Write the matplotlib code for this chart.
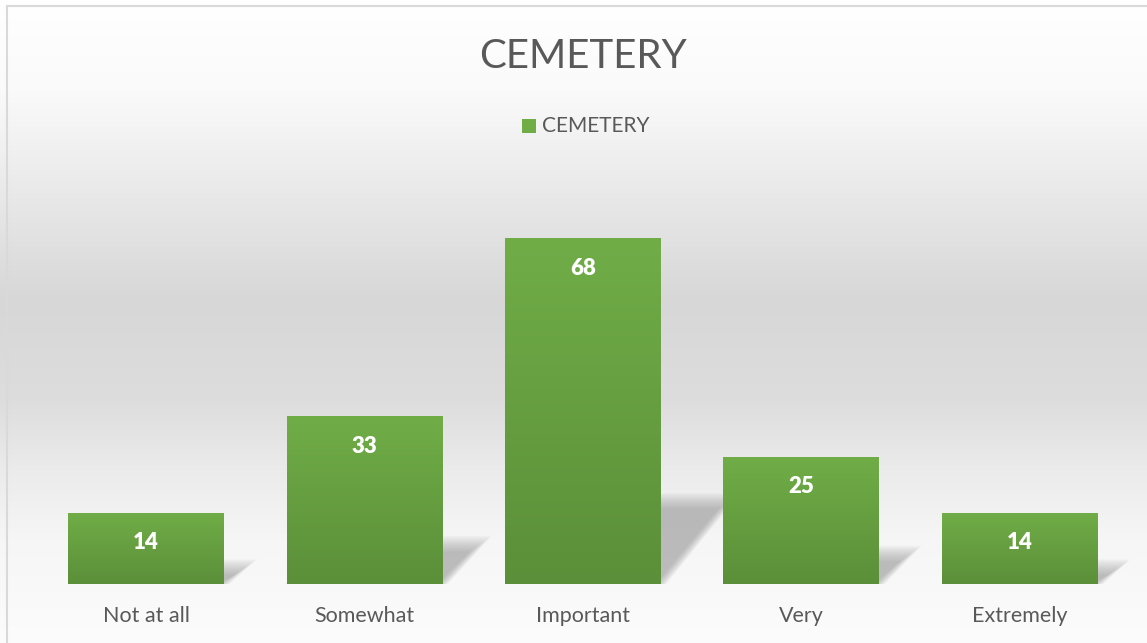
#!/usr/bin/env python3
"""CEMETERY 柱状图，仿 Excel 风格（渐变背景、渐变柱、透视阴影）。"""

import numpy as np
import matplotlib
matplotlib.use("Agg")
import matplotlib.pyplot as plt
from matplotlib.patches import Polygon, Rectangle
from matplotlib.lines import Line2D
from matplotlib.colors import LinearSegmentedColormap

categories = ["Not at all", "Somewhat", "Important", "Very", "Extremely"]
values = [14, 33, 68, 25, 14]
series_name = "CEMETERY"
title = "CEMETERY"

W, H, DPI = 1147, 643, 100
TEXT = "#595959"
FONT = "Lato"

fig = plt.figure(figsize=(W / DPI, H / DPI), dpi=DPI)

# 背景渐变（上白 - 中灰 - 下白）
bg = fig.add_axes([0, 0, 1, 1], zorder=-10)
rows = np.arange(H)
stops_y = [0, 90, 180, 300, 400, 470, 540, 643]
stops_v = [255, 250, 235, 215, 221, 235, 246, 252]
grad = np.interp(rows, stops_y, stops_v) / 255.0
img = np.repeat(grad[:, None, None], 3, axis=2)
img = np.repeat(img, W, axis=1)
bg.imshow(img, aspect="auto", extent=[0, 1, 0, 1], interpolation="none")
bg.set_axis_off()

# 外框（左、上）
fig.add_artist(Line2D([7.5 / W, 7.5 / W], [0, 1 - 5.5 / H], color="#d9d9d9", lw=1.5))
fig.add_artist(Line2D([7.5 / W, 1], [1 - 5.5 / H, 1 - 5.5 / H], color="#d9d9d9", lw=1.5))

# 绘图区
left, right, base, top = 37, 1129, 584, 177
ax = fig.add_axes([left / W, (H - base) / H, (right - left) / W, (base - top) / H])
ax.set_facecolor("none")
x = np.arange(len(categories))
for s in ax.spines.values():
    s.set_visible(False)
ax.set_yticks([])
ax.set_xticks(x)
ax.set_xticklabels(categories, fontsize=15.5, color=TEXT, family=FONT)
ax.tick_params(axis="x", length=0, pad=16)

bar_w = 0.714
px_x = (right - left) / len(categories)   # 每个类别的像素宽
px_y = (base - top) / 80.0                  # 每单位像素高

# 透视阴影（多层叠加模拟模糊）
for xi, v in zip(x, values):
    h = 0.24 * v
    shift = (0.7 * h * px_y + 10) / px_x
    x0, x1 = xi - bar_w / 2, xi + bar_w / 2
    n = 16
    for k in range(n):
        t = k / (n - 1)
        grow = (0.5 - t) * 22 / px_x
        growy = (0.5 - t) * 16 / px_y
        poly = Polygon([(x0, 0), (x1 + grow * 0.5, 0),
                        (x1 + shift + grow, h + growy), (x0 + shift, h + growy)],
                       closed=True, facecolor="#8c8c8c", edgecolor="none",
                       alpha=0.042, zorder=1)
        ax.add_patch(poly)

# 渐变柱
bars = ax.bar(x, values, width=bar_w, color="#70ad47", zorder=2)
green = LinearSegmentedColormap.from_list("g", ["#5b8f39", "#70ad47"])
gcol = np.linspace(0, 1, 256)[:, None]
for b in bars:
    bx, by = b.get_x(), b.get_y()
    bw, bh = b.get_width(), b.get_height()
    im = ax.imshow(gcol, cmap=green, aspect="auto", origin="lower",
                   extent=[bx, bx + bw, by, by + bh], zorder=3,
                   interpolation="bilinear")
    im.set_clip_path(b)
    ax.annotate(str(int(bh)), (bx + bw / 2, bh), xytext=(0, -21.6),
                textcoords="offset points", ha="center", va="center",
                color="white", fontsize=16, fontweight="heavy", family=FONT,
                zorder=5)
ax.set_xlim(-0.5, len(categories) - 0.5)
ax.set_ylim(0, 80)

# 标题与图例
fig.text(583 / W, 1 - 56 / H, title, ha="center", va="center",
         fontsize=29, color=TEXT, family=FONT)
fig.add_artist(Rectangle((522 / W, 1 - 133 / H), 14 / W, 14 / H,
                         transform=fig.transFigure, facecolor="#70ad47",
                         edgecolor="none"))
fig.text(542 / W, 1 - 126 / H, series_name, ha="left", va="center",
         fontsize=15, color=TEXT, family=FONT)

fig.savefig("out.png", dpi=DPI)
